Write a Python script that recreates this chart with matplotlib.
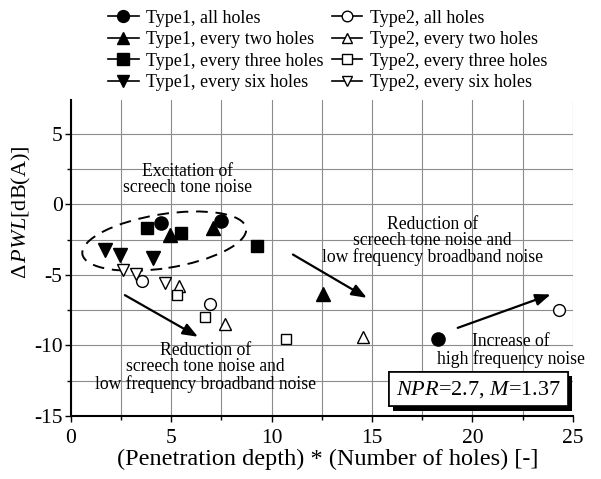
import matplotlib
matplotlib.use("Agg")
import matplotlib.pyplot as plt
from matplotlib.lines import Line2D
from matplotlib.patches import Ellipse
from matplotlib.transforms import Affine2D
import matplotlib.patheffects as pe

plt.rcParams["font.family"] = "Liberation Serif"
plt.rcParams["mathtext.fontset"] = "custom"
plt.rcParams["mathtext.rm"] = "Liberation Serif"
plt.rcParams["mathtext.it"] = "Liberation Serif:italic"
plt.rcParams["axes.unicode_minus"] = False

# values: (penetration depth * number of holes, delta PWL)
t1_all_x = [4.5, 7.46, 18.27]
t1_all_y = [-1.28, -1.18, -9.55]
t1_two_x = [4.93, 7.08, 12.55]
t1_two_y = [-2.2, -1.65, -6.38]
t1_three_x = [3.8, 5.5, 9.29]
t1_three_y = [-1.65, -2.0, -2.93]
t1_six_x = [1.72, 2.47, 4.1]
t1_six_y = [-3.24, -3.6, -3.78]

t2_all_x = [3.52, 6.92, 24.33]
t2_all_y = [-5.41, -7.09, -7.5]
t2_two_x = [5.37, 7.66, 14.54]
t2_two_y = [-5.77, -8.51, -9.38]
t2_three_x = [5.29, 6.67, 10.73]
t2_three_y = [-6.43, -7.97, -9.55]
t2_six_x = [2.6, 3.23, 4.68]
t2_six_y = [-4.66, -4.96, -5.6]

labels = ["Type1, all holes", "Type1, every two holes", "Type1, every three holes", "Type1, every six holes",
          "Type2, all holes", "Type2, every two holes", "Type2, every three holes", "Type2, every six holes"]

fig = plt.figure(figsize=(6.01, 4.79), dpi=100)
ax = fig.add_axes([0.118, 0.1315, 0.835, 0.6595])

series = [
    (t1_all_x, t1_all_y, "o", True, 9.5),
    (t1_two_x, t1_two_y, "^", True, 10),
    (t1_three_x, t1_three_y, "s", True, 9),
    (t1_six_x, t1_six_y, "v", True, 10),
    (t2_all_x, t2_all_y, "o", False, 8.5),
    (t2_two_x, t2_two_y, "^", False, 8.5),
    (t2_three_x, t2_three_y, "s", False, 7.5),
    (t2_six_x, t2_six_y, "v", False, 8.5),
]

handles = []
for (x, y, m, filled, ms), lab in zip(series, labels):
    fc = "black" if filled else "white"
    ax.plot(x, y, linestyle="none", marker=m, markersize=ms, markerfacecolor=fc,
            markeredgecolor="black", markeredgewidth=1.0, zorder=5)
    handles.append(Line2D([], [], color="black", lw=1.2, marker=m, markersize=ms * 0.9,
                          markerfacecolor=fc, markeredgecolor="black", markeredgewidth=1.0, label=lab))

ax.set_xlim(0, 25)
ax.set_ylim(-15, 7.4)
ax.set_xticks([0, 5, 10, 15, 20, 25])
ax.set_yticks([5, 0, -5, -10, -15])
ax.set_xticks([2.5, 7.5, 12.5, 17.5, 22.5], minor=True)
ax.set_yticks([2.5, -2.5, -7.5, -12.5], minor=True)
ax.grid(True, which="both", color="#8c8c8c", lw=0.8)
ax.set_axisbelow(True)
ax.spines["top"].set_visible(False)
ax.spines["right"].set_visible(False)
ax.spines["left"].set_linewidth(1.5)
ax.spines["bottom"].set_linewidth(1.5)
ax.tick_params(which="both", direction="out", length=4, width=1, labelsize=15.5)
ax.tick_params(axis="x", pad=5)
ax.tick_params(axis="y", pad=2)
ax.tick_params(which="minor", length=3)

ax.set_xlabel("(Penetration depth) * (Number of holes) [-]", fontsize=17.5)
ax.xaxis.set_label_coords(0.512, -0.104)
ax.set_ylabel(r"$\Delta\,\mathit{PWL}$[dB(A)]", fontsize=16)
ax.yaxis.set_label_coords(-0.076, 0.645)

# dashed ellipse drawn in pixel-like units so the tilt is not distorted
scl = Affine2D().scale(1 / 20.1, 1 / 14.1) + ax.transData
ell = Ellipse((4.65 * 20.1, -2.6 * 14.1), 166, 54, angle=9, fill=False, ls=(0, (6, 4)),
              lw=1.4, ec="black", transform=scl, zorder=3)
ax.add_patch(ell)

fs = 12.7
ax.text(5.8, 1.75, "Excitation of\nscreech tone noise", ha="center", va="center", fontsize=fs, linespacing=0.95)
ax.text(18.0, -2.6, "Reduction of\nscreech tone noise and\nlow frequency broadband noise",
        ha="center", va="center", fontsize=fs, linespacing=0.95)
ax.text(6.7, -11.55, "Reduction of\nscreech tone noise and\nlow frequency broadband noise",
        ha="center", va="center", fontsize=fs, linespacing=0.95)
ax.text(21.9, -10.35, "Increase of\nhigh frequency noise", ha="center", va="center", fontsize=fs, linespacing=0.95)

arr = dict(arrowstyle="-|>,head_length=0.9,head_width=0.35", color="black", lw=1.6, shrinkA=0, shrinkB=0)
ax.annotate("", xy=(6.33, -9.38), xytext=(2.69, -6.43), arrowprops=arr)
ax.annotate("", xy=(14.74, -6.62), xytext=(11.06, -3.55), arrowprops=arr)
ax.annotate("", xy=(23.9, -6.38), xytext=(19.27, -8.75), arrowprops=arr)

t = ax.text(20.3, -13.1, r"$\mathit{NPR}$=2.7, $\mathit{M}$=1.37", ha="center", va="center", fontsize=16,
            bbox=dict(boxstyle="square,pad=0.3", fc="white", ec="black", lw=1.2), zorder=6)
t.get_bbox_patch().set_path_effects([pe.withSimplePatchShadow(offset=(3, -3), shadow_rgbFace="black", alpha=1),
                                     pe.Normal()])

fig.legend(handles=handles, loc="upper center", bbox_to_anchor=(0.545, 1.014), ncol=2, frameon=False,
           fontsize=13.0, handlelength=1.7, handletextpad=0.4, columnspacing=0.45, labelspacing=0.25)

fig.savefig("out.png", dpi=100)
